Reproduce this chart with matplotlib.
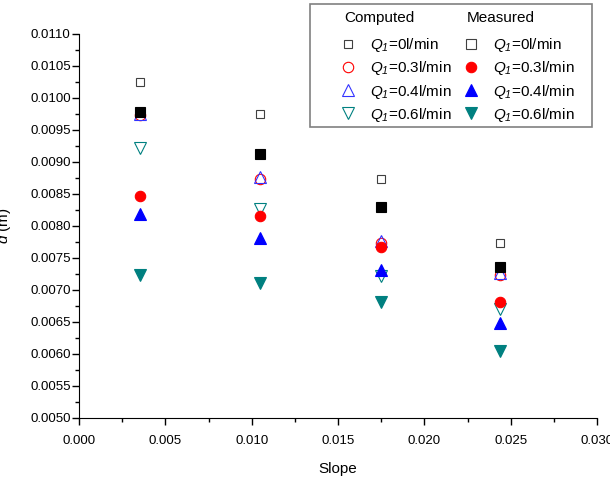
import matplotlib
matplotlib.use("Agg")
import matplotlib.pyplot as plt
from matplotlib.lines import Line2D
from matplotlib.patches import Rectangle
from matplotlib.ticker import MultipleLocator, FormatStrFormatter

plt.rcParams['font.family'] = ['Liberation Sans', 'DejaVu Sans']
plt.rcParams['mathtext.fontset'] = 'custom'
plt.rcParams['mathtext.rm'] = 'Liberation Sans:italic'
plt.rcParams['mathtext.it'] = 'Liberation Sans:italic'

# datos
slope = [0.00352, 0.0105, 0.01751, 0.0244]
caudales = ['0', '0.3', '0.4', '0.6']

calc_q0 = [0.01025, 0.00975, 0.00874, 0.00774]
calc_q03 = [0.00973, 0.00874, 0.00774, 0.00724]
calc_q04 = [0.00975, 0.00876, 0.00776, 0.00726]
calc_q06 = [0.00922, 0.00826, 0.00722, 0.00671]

med_q0 = [0.00978, 0.00913, 0.00830, 0.00736]
med_q03 = [0.00847, 0.00816, 0.00767, 0.00681]
med_q04 = [0.00818, 0.00782, 0.00732, 0.00648]
med_q06 = [0.00723, 0.00711, 0.00681, 0.00604]

teal = '#008080'
estilo_calc = [('s', '#404040', 6), ('o', 'red', 7.5), ('^', '#3333ff', 8), ('v', teal, 8)]
estilo_med = [('s', 'black', 6.5), ('o', 'red', 7.5), ('^', 'blue', 8), ('v', teal, 8)]

W, H = 610, 483
fig = plt.figure(figsize=(W / 100, H / 100), dpi=100)
ax = fig.add_axes([79 / W, 1 - 418 / H, 518 / W, 384 / H])

for serie, (m, c, ms) in zip([calc_q0, calc_q03, calc_q04, calc_q06], estilo_calc):
    ax.plot(slope, serie, ls='none', marker=m, ms=ms, mfc='none', mec=c, mew=0.8)
for serie, (m, c, ms) in zip([med_q0, med_q03, med_q04, med_q06], estilo_med):
    ax.plot(slope, serie, ls='none', marker=m, ms=ms, mfc=c, mec=c, mew=0.8)

ax.set_xlim(0, 0.03)
ax.set_ylim(0.005, 0.011)
ax.xaxis.set_major_locator(MultipleLocator(0.005))
ax.xaxis.set_minor_locator(MultipleLocator(0.0025))
ax.yaxis.set_major_locator(MultipleLocator(0.0005))
ax.yaxis.set_minor_locator(MultipleLocator(0.00025))
ax.xaxis.set_major_formatter(FormatStrFormatter('%.3f'))
ax.yaxis.set_major_formatter(FormatStrFormatter('%.4f'))
ax.tick_params(which='major', direction='out', length=5, width=1, labelsize=9.5)
ax.tick_params(which='minor', direction='out', length=3, width=1)
ax.tick_params(axis='x', which='major', pad=7)
ax.tick_params(axis='y', which='major', pad=1)
ax.spines['top'].set_visible(False)
ax.spines['right'].set_visible(False)
ax.set_xlabel('Slope', fontsize=11, labelpad=11)
ax.set_ylabel('$d$ (m)', fontsize=11)
ax.yaxis.set_label_coords(-0.128, 0.5)

# leyenda en dos columnas con cabecera
vacio = Line2D([], [], ls='none', marker='none')
handles = [vacio]
labels = ['Computed']
for q, (m, c, ms) in zip(caudales, estilo_calc):
    handles.append(Line2D([], [], ls='none', marker=m, ms=ms, mfc='none', mec=c, mew=0.8))
    labels.append('$Q_1$=' + q + 'l/min')
handles.append(vacio)
labels.append('Measured')
for q, (m, c, ms) in zip(caudales, estilo_med):
    if m == 's':
        c_face = 'none'
        c_edge = '#404040'
    else:
        c_face = c
        c_edge = c
    handles.append(Line2D([], [], ls='none', marker=m, ms=ms, mfc=c_face, mec=c_edge, mew=0.8))
    labels.append('$Q_1$=' + q + 'l/min')

leg = ax.legend(handles, labels, ncol=2, loc='upper left',
                bbox_to_anchor=(339 / W, 1 - 17 / H), bbox_transform=fig.transFigure,
                fontsize=11, frameon=False, handlelength=1.2, handletextpad=0.85,
                columnspacing=0.65, labelspacing=0.34, borderpad=0, borderaxespad=0)
for t in leg.get_texts():
    if t.get_text() in ('Computed', 'Measured'):
        t.set_x(-26)
        t.set_y(6)

# marco de la leyenda
fig.patches.append(Rectangle((310 / W, 1 - 127 / H), 282 / W, 123 / H, transform=fig.transFigure,
                             fill=False, edgecolor='#808080', linewidth=1.2, zorder=5))

fig.savefig('out.png', dpi=100)
